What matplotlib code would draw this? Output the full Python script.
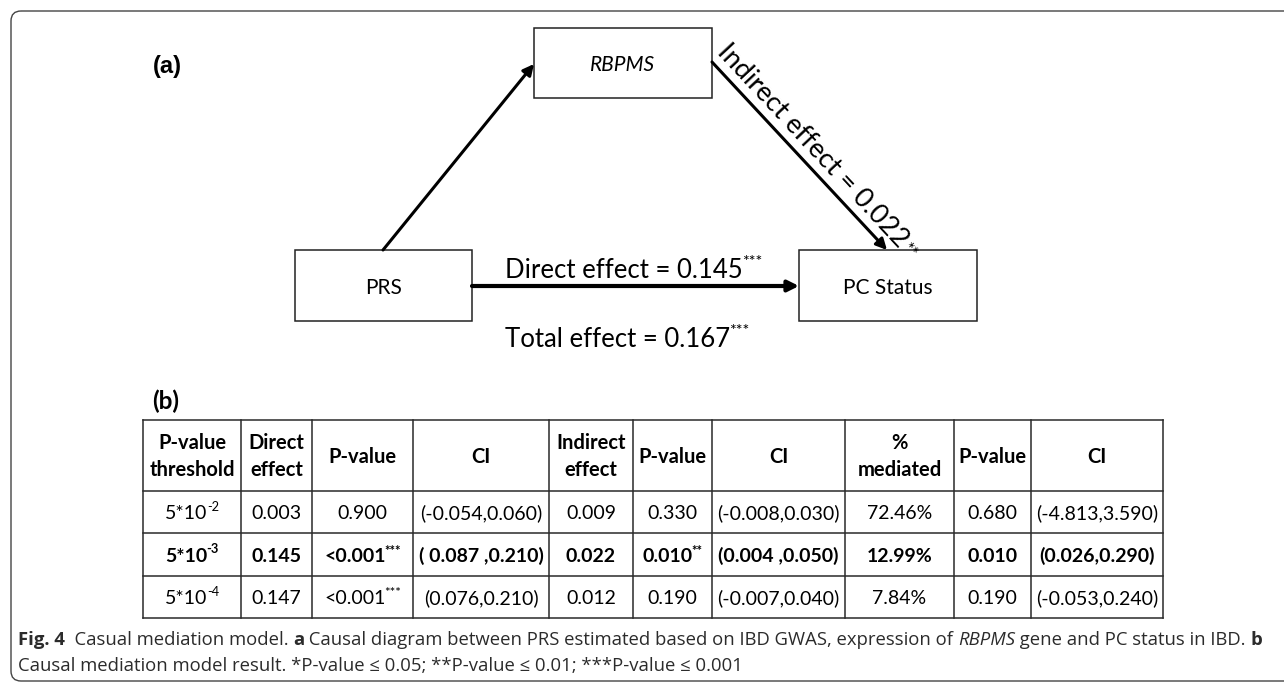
import math
import matplotlib
matplotlib.use("Agg")
import matplotlib.pyplot as plt
from matplotlib.patches import Rectangle, FancyBboxPatch
from matplotlib import font_manager

# ------------------------------------------------------------------
# Mediation results
# ------------------------------------------------------------------
threshold_exp   = ["-2", "-3", "-4"]
direct_effect   = ["0.003", "0.145", "0.147"]
direct_p        = ["0.900", "<0.001", "<0.001"]
direct_p_sig    = ["", "***", "***"]
direct_ci       = ["(-0.054,0.060)", "( 0.087 ,0.210)", "(0.076,0.210)"]
indirect_effect = ["0.009", "0.022", "0.012"]
indirect_p      = ["0.330", "0.010", "0.190"]
indirect_p_sig  = ["", "**", ""]
indirect_ci     = ["(-0.008,0.030)", "(0.004 ,0.050)", "(-0.007,0.040)"]
pct_mediated    = ["72.46%", "12.99%", "7.84%"]
mediated_p      = ["0.680", "0.010", "0.190"]
mediated_ci     = ["(-4.813,3.590)", "(0.026,0.290)", "(-0.053,0.240)"]
highlight_row   = 1

header_cells = [
    ["P-value", "threshold"], ["Direct", "effect"], ["P-value"], ["CI"],
    ["Indirect", "effect"], ["P-value"], ["CI"], ["%", "mediated"],
    ["P-value"], ["CI"],
]

# diagram labels (selected threshold 5*10^-3)
node_labels    = ["PRS", "RBPMS", "PC Status"]
direct_value   = 0.145
direct_sig     = "***"
indirect_value = 0.022
indirect_sig   = "**"
total_value    = 0.167
total_sig      = "***"

caption_line1 = [
    ("Fig. 4", "bold", "normal"), ("  Casual mediation model. ", "normal", "normal"),
    ("a", "bold", "normal"),
    (" Causal diagram between PRS estimated based on IBD GWAS, expression of ", "normal", "normal"),
    ("RBPMS", "normal", "italic"), (" gene and PC status in IBD. ", "normal", "normal"),
    ("b", "bold", "normal"),
]
caption_line2 = [
    ("Causal mediation model result. *P-value \u2264 0.05; **P-value \u2264 0.01; "
     "***P-value \u2264 0.001", "normal", "normal"),
]

# ------------------------------------------------------------------
# Canvas: one axes in pixel units
# ------------------------------------------------------------------
W, H = 1284, 683
PT = 100 / 72
BODY = ["Lato", "DejaVu Sans"]


def pick_family(names):
    for n in names:
        try:
            font_manager.findfont(font_manager.FontProperties(family=n),
                                  fallback_to_default=False)
            return [n, "DejaVu Sans"]
        except ValueError:
            continue
    return BODY


CAPTION = pick_family(["Liberation Sans Narrow", "Open Sans", "Lato"])

fig = plt.figure(figsize=(W / 100, H / 100), dpi=100)
ax = fig.add_axes([0, 0, 1, 1])
ax.set_xlim(0, W)
ax.set_ylim(H, 0)
ax.axis("off")
renderer = fig.canvas.get_renderer()


def text_width(s, **kw):
    t = ax.text(0, 0, s, **kw)
    w = t.get_window_extent(renderer).width
    t.remove()
    return w


def sup_text(x, y, main, sup, size, weight="normal", style="normal",
             ha="center", scale=0.68, rise=0.4, kern=0, family=BODY,
             color="black"):
    kw = dict(fontsize=size, fontweight=weight, fontstyle=style,
              family=family, color=color)
    skw = dict(kw, fontsize=size * scale)
    w_main = text_width(main, **kw)
    w_sup = text_width(sup, **skw) + kern if sup else 0
    x0 = x - (w_main + w_sup) / 2 if ha == "center" else x
    ax.text(x0, y, main, ha="left", va="baseline", **kw)
    if sup:
        ax.text(x0 + w_main + kern, y - size * PT * rise, sup,
                ha="left", va="baseline", **skw)


# outer frame
ax.add_patch(FancyBboxPatch((11, 11), 1340, 670,
                            boxstyle="round,pad=0,rounding_size=10",
                            fill=False, lw=1.0, ec="#444444"))

# ------------------------------------------------------------------
# (a) causal diagram
# ------------------------------------------------------------------
ax.text(167, 66, "(a)", ha="center", va="center", fontsize=17,
        fontweight="bold", family=["Liberation Sans", "DejaVu Sans"])

boxes = {
    "PRS": (295, 250, 177, 71),
    "RBPMS": (534, 28, 178, 70),
    "PC Status": (799, 250, 178, 71),
}
for name in node_labels:
    x, y, w, h = boxes[name]
    ax.add_patch(Rectangle((x, y), w, h, fill=False, lw=1.1, ec="#222222"))
    ax.text(x + w / 2, y + h / 2 + 2, name, ha="center", va="center",
            fontsize=15, family=BODY,
            fontstyle="italic" if name == "RBPMS" else "normal")


def arrow(p0, p1, lw):
    ax.annotate("", xy=p1, xytext=p0,
                arrowprops=dict(arrowstyle="-|>", lw=lw, color="black",
                                mutation_scale=16, shrinkA=0, shrinkB=0))


arrow((383, 250), (534, 64), 2.2)
arrow((712, 62), (887, 250), 2.2)
arrow((472, 286), (799, 286), 3.0)

EFF = 18.5
sup_text(505, 278, f"Direct effect = {direct_value:.3f}", direct_sig, EFF,
         ha="left", scale=0.62, rise=0.45, kern=-1)
sup_text(505, 347, f"Total effect = {total_value:.3f}", total_sig, EFF,
         ha="left", scale=0.62, rise=0.45, kern=-1)

# indirect label runs along the RBPMS -> PC Status arrow
p0, p1 = (712, 62), (887, 250)
dx, dy = p1[0] - p0[0], p1[1] - p0[1]
L = math.hypot(dx, dy)
d = (dx / L, dy / L)
up = (d[1], -d[0])
ang = -math.degrees(math.atan2(dy, dx))
IND = 19.5
off, back = 9, -4
bx = p0[0] + off * up[0] + back * d[0]
by = p0[1] + off * up[1] + back * d[1]
main = f"Indirect effect = {indirect_value:.3f}"
kw = dict(fontsize=IND, family=BODY, rotation=ang, rotation_mode="anchor",
          ha="left", va="baseline")
ax.text(bx, by, main, **kw)
wm = text_width(main, fontsize=IND, family=BODY)
rise = IND * PT * 0.05
ax.text(bx + (wm + 2) * d[0] + rise * up[0], by + (wm + 2) * d[1] + rise * up[1],
        indirect_sig, **dict(kw, fontsize=IND * 0.62))

# ------------------------------------------------------------------
# (b) results table
# ------------------------------------------------------------------
ax.text(166, 401, "(b)", ha="center", va="center", fontsize=17.5,
        fontweight="bold", family=BODY)

col_edges = [143, 241, 312, 413, 549, 633, 712, 845, 954, 1031, 1163]
row_edges = [420, 491, 533, 576, 618]
for x in col_edges:
    ax.plot([x, x], [row_edges[0], row_edges[-1]], color="#2a2a2a", lw=1.1,
            solid_capstyle="projecting")
for y in row_edges:
    ax.plot([col_edges[0], col_edges[-1]], [y, y], color="#2a2a2a", lw=1.1,
            solid_capstyle="projecting")

TAB = 14
HEAD = 14.5
centers = [(a + b) / 2 for a, b in zip(col_edges[:-1], col_edges[1:])]

hy = (row_edges[0] + row_edges[1]) / 2
hcap = HEAD * PT * 0.72
for cx, lines in zip(centers, header_cells):
    ys = [hy] if len(lines) == 1 else [hy - 13.5, hy + 13.5]
    for yy, s in zip(ys, lines):
        ax.text(cx, yy + hcap / 2, s, ha="center", va="baseline",
                fontsize=HEAD, fontweight="bold", family=BODY)

cap = TAB * PT * 0.72
for i in range(len(direct_effect)):
    cells = [
        (direct_effect[i], ""), (direct_p[i], direct_p_sig[i]),
        (direct_ci[i], ""), (indirect_effect[i], ""),
        (indirect_p[i], indirect_p_sig[i]), (indirect_ci[i], ""),
        (pct_mediated[i], ""), (mediated_p[i], ""), (mediated_ci[i], ""),
    ]
    cy = (row_edges[i + 1] + row_edges[i + 2]) / 2
    wt = "bold" if i == highlight_row else "normal"
    # threshold column: 5*10 with a raised exponent
    sup_text(centers[0], cy + cap / 2, "5*10", threshold_exp[i], TAB,
             weight=wt, scale=0.66, rise=0.42, kern=-0.5)
    for cx, (s, sup) in zip(centers[1:], cells):
        sup_text(cx, cy + cap / 2, s, sup, TAB, weight=wt,
                 scale=0.68, rise=0.36, kern=-1.5)

# ------------------------------------------------------------------
# caption
# ------------------------------------------------------------------
def run_widths(runs, size):
    return [text_width(s, fontsize=size, fontweight=w, fontstyle=st,
                       family=CAPTION) for s, w, st in runs]


target = 1261 - 18
cap_size = 10 * target / sum(run_widths(caption_line1, 10))
for runs, y in [(caption_line1, 645), (caption_line2, 671)]:
    x = 18
    for (s, w, st), wd in zip(runs, run_widths(runs, cap_size)):
        ax.text(x, y, s, ha="left", va="baseline", fontsize=cap_size,
                fontweight=w, fontstyle=st, family=CAPTION, color="#2b2b2b")
        x += wd

fig.savefig("out.png", dpi=100)
